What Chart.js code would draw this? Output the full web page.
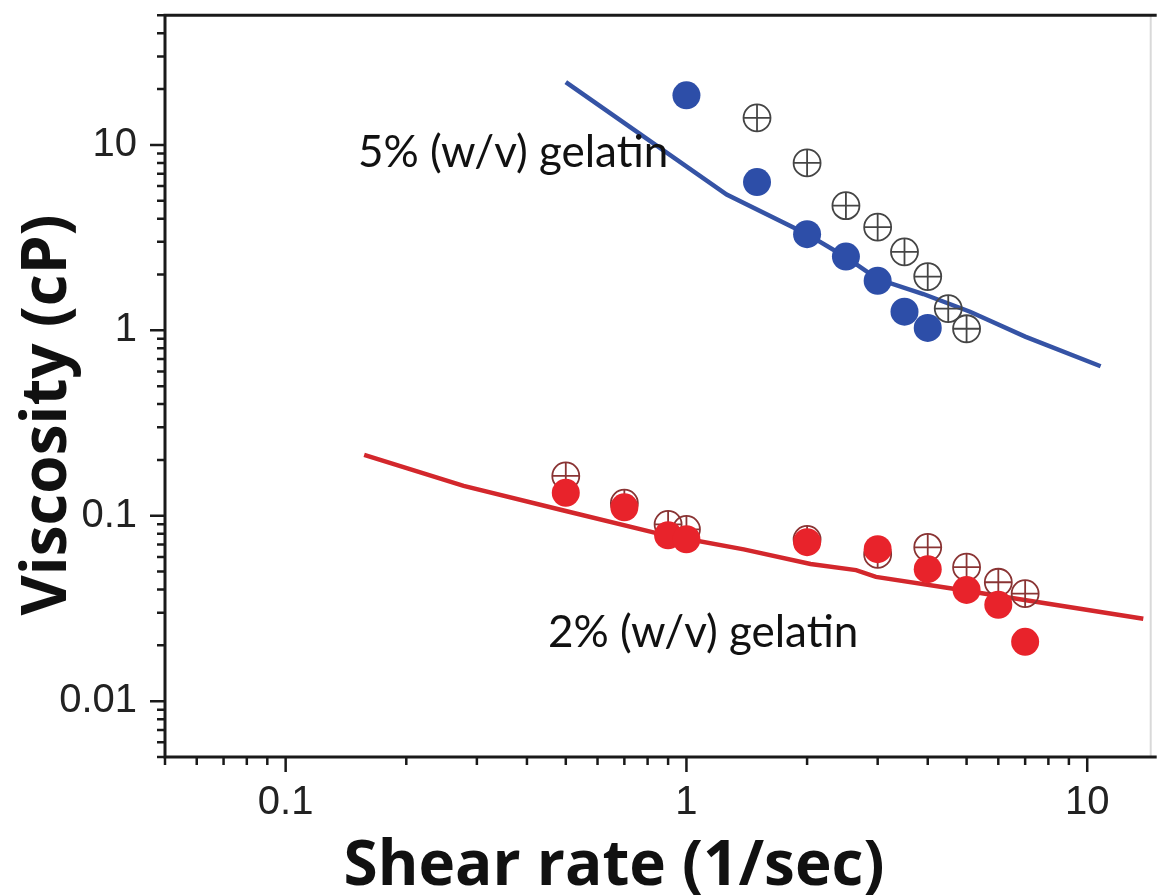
<!DOCTYPE html>
<html>
<head>
<meta charset="utf-8">
<script src="https://cdn.jsdelivr.net/npm/chart.js@4.4.1/dist/chart.umd.min.js"></script>
<style>
  html, body { margin: 0; padding: 0; background: #fff; overflow: hidden; }
</style>
</head>
<body>
<canvas id="viscosity" width="1166" height="895"></canvas>
<script>
// 5% gelatin: filled dots, crossed rings and the fitted curve
const blueDotsX = [1, 1.5, 2, 2.5, 3, 3.5, 4];
const blueDotsY = [18.5, 6.3, 3.3, 2.5, 1.85, 1.26, 1.03];
const blueRingsX = [1.5, 2, 2.5, 3, 3.5, 4, 4.5, 5];
const blueRingsY = [14, 8.0, 4.7, 3.6, 2.65, 1.95, 1.31, 1.02];
const blueFitX = [0.5, 1.26, 2.0, 2.5, 3.0, 3.9, 5.1, 7.0, 10.8];
const blueFitY = [21.8, 5.4, 3.3, 2.48, 1.89, 1.57, 1.26, 0.925, 0.64];

// 2% gelatin
const redDotsX = [0.5, 0.7, 0.9, 1, 2, 3, 4, 5, 6, 7];
const redDotsY = [0.133, 0.111, 0.0785, 0.0747, 0.072, 0.066, 0.0515, 0.0398, 0.0331, 0.0209];
const redRingsX = [0.5, 0.7, 0.9, 1, 2, 3, 4, 5, 6, 7];
const redRingsY = [0.164, 0.117, 0.0898, 0.0844, 0.0746, 0.0619, 0.0676, 0.0528, 0.0438, 0.038];
const redFitX = [0.157, 0.278, 0.491, 0.867, 1.39, 2.04, 2.65, 2.97, 4.68, 13.8];
const redFitY = [0.213, 0.145, 0.107, 0.0794, 0.0659, 0.0549, 0.0509, 0.0468, 0.0403, 0.0278];

const xTickLabels = ['0.1', '1', '10'];
const yTickLabels = ['0.01', '0.1', '1', '10'];

const X_MIN = 0.05, X_MAX = 14.4;
const Y_MIN = 0.005, Y_MAX = 50;

const BLUE = '#2d4ea8';
const RED = '#e8232b';

function pts(xs, ys) {
  return xs.map((x, i) => ({ x: x, y: ys[i] }));
}

// 1..9 x 10^n inside [min, max]
function logTicks(min, max) {
  const out = [];
  for (let e = Math.floor(Math.log10(min)); e <= Math.ceil(Math.log10(max)); e++) {
    for (let m = 1; m <= 9; m++) {
      const v = +(m * Math.pow(10, e)).toPrecision(2);
      if (v >= min * 0.999 && v <= max * 1.001) out.push(v);
    }
  }
  return out;
}

const tickFont = { family: '"Liberation Sans", Arial, sans-serif', size: 40 };

const axesFrame = {
  id: 'axesFrame',
  beforeDatasetsDraw(chart) {
    const { ctx, chartArea: a, scales: { x, y } } = chart;
    ctx.save();
    ctx.strokeStyle = '#d9d9d9';
    ctx.lineWidth = 2;
    ctx.beginPath();
    ctx.moveTo(a.right, a.top);
    ctx.lineTo(a.right, a.bottom);
    ctx.stroke();

    ctx.strokeStyle = '#1a1a1a';
    ctx.lineWidth = 3;
    ctx.beginPath();
    ctx.moveTo(a.left, a.top);
    ctx.lineTo(a.right + 6, a.top);
    ctx.moveTo(a.left, a.top - 1.5);
    ctx.lineTo(a.left, a.bottom);
    ctx.lineTo(a.right + 6, a.bottom);
    ctx.stroke();

    ctx.lineWidth = 2.5;
    ctx.beginPath();
    x.ticks.forEach(t => {
      const px = x.getPixelForValue(t.value);
      const len = xTickLabels.includes(String(t.value)) ? 15 : 8;
      ctx.moveTo(px, a.bottom);
      ctx.lineTo(px, a.bottom + len);
    });
    y.ticks.forEach(t => {
      const py = y.getPixelForValue(t.value);
      const len = yTickLabels.includes(String(t.value)) ? 15 : 8;
      ctx.moveTo(a.left, py);
      ctx.lineTo(a.left - len, py);
    });
    ctx.stroke();
    ctx.restore();
  },
  afterDraw(chart) {
    const ctx = chart.ctx;
    ctx.save();
    ctx.fillStyle = '#111';
    ctx.font = '700 62px "Open Sans", sans-serif';
    ctx.textAlign = 'center';
    ctx.textBaseline = 'alphabetic';
    ctx.fillText('Shear rate (1/sec)', 614, 885);

    ctx.translate(66, 415);
    ctx.rotate(-Math.PI / 2);
    ctx.fillText('Viscosity (cP)', 0, 0);
    ctx.restore();

    ctx.save();
    ctx.fillStyle = '#111';
    ctx.font = '400 44px Lato, sans-serif';
    ctx.textAlign = 'left';
    ctx.textBaseline = 'alphabetic';
    ctx.fillText('5% (w/v) gelatin', 358, 167);
    ctx.fillText('2% (w/v) gelatin', 548, 647);
    ctx.restore();
  }
};

new Chart(document.getElementById('viscosity'), {
  type: 'scatter',
  data: {
    datasets: [
      { data: pts(blueDotsX, blueDotsY), order: 0, pointStyle: 'circle', pointRadius: 14, pointBackgroundColor: BLUE, pointBorderWidth: 0 },
      { data: pts(redDotsX, redDotsY), order: 0, pointStyle: 'circle', pointRadius: 14, pointBackgroundColor: RED, pointBorderWidth: 0 },
      { data: pts(blueRingsX, blueRingsY), order: 1, pointStyle: 'cross', pointRadius: 13.5, pointBorderColor: '#454545', pointBorderWidth: 1.8 },
      { data: pts(blueRingsX, blueRingsY), order: 1, pointStyle: 'circle', pointRadius: 13.5, pointBackgroundColor: 'rgba(0,0,0,0)', pointBorderColor: '#454545', pointBorderWidth: 1.8 },
      { data: pts(redRingsX, redRingsY), order: 1, pointStyle: 'cross', pointRadius: 13.5, pointBorderColor: '#8a3434', pointBorderWidth: 1.8 },
      { data: pts(redRingsX, redRingsY), order: 1, pointStyle: 'circle', pointRadius: 13.5, pointBackgroundColor: 'rgba(0,0,0,0)', pointBorderColor: '#8a3434', pointBorderWidth: 1.8 },
      { data: pts(blueFitX, blueFitY), order: 2, showLine: true, pointRadius: 0, borderColor: '#3553a5', borderWidth: 4.5, tension: 0 },
      { data: pts(redFitX, redFitY), order: 2, showLine: true, pointRadius: 0, borderColor: '#d3272c', borderWidth: 4.5, tension: 0 }
    ]
  },
  options: {
    responsive: false,
    animation: false,
    devicePixelRatio: 1,
    layout: { padding: { left: 0, top: 9, right: 5, bottom: 0 } },
    plugins: { legend: { display: false }, tooltip: { enabled: false } },
    scales: {
      x: {
        type: 'logarithmic',
        min: X_MIN,
        max: X_MAX,
        afterFit: s => { s.height = 138; s.paddingLeft = 0; s.paddingRight = 0; },
        afterBuildTicks: s => { s.ticks = logTicks(X_MIN, X_MAX).map(v => ({ value: v })); },
        grid: { display: false },
        border: { display: false },
        ticks: {
          autoSkip: false,
          maxRotation: 0,
          padding: 14,
          color: '#222',
          font: tickFont,
          callback: v => (xTickLabels.includes(String(v)) ? String(v) : '')
        }
      },
      y: {
        type: 'logarithmic',
        min: Y_MIN,
        max: Y_MAX,
        afterFit: s => { s.width = 165; s.paddingTop = 0; s.paddingBottom = 0; },
        afterBuildTicks: s => { s.ticks = logTicks(Y_MIN, Y_MAX).map(v => ({ value: v })); },
        grid: { display: false },
        border: { display: false },
        ticks: {
          autoSkip: false,
          padding: 20,
          color: '#222',
          font: tickFont,
          callback: v => (yTickLabels.includes(String(v)) ? String(v) : '')
        }
      }
    }
  },
  plugins: [axesFrame]
});
</script>
</body>
</html>
